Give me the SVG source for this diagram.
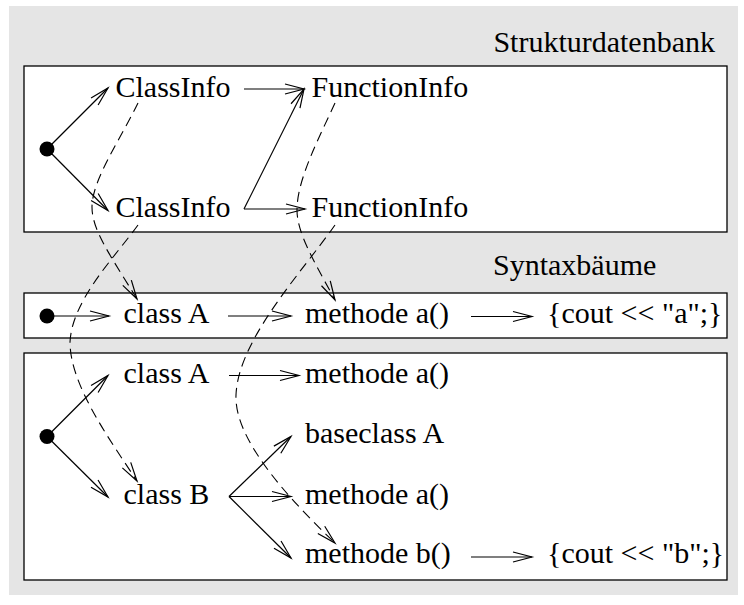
<svg xmlns="http://www.w3.org/2000/svg" width="744" height="605" viewBox="0 0 744 605">
  <style>
    .panel { fill: #ffffff; stroke: #000000; stroke-width: 1.3; }
    .lbl { font-family: "Liberation Serif", "Times New Roman", serif; font-size: 30px; fill: #000000; }
    .title { font-family: "Liberation Serif", "Times New Roman", serif; font-size: 30px; fill: #000000; }
    .dot { fill: #000000; }
    .link { fill: none; stroke: #000000; stroke-width: 1.2; marker-end: url(#chev); }
    .ref { fill: none; stroke: #000000; stroke-width: 1.1; stroke-dasharray: 10 6; marker-end: url(#chev); }
  </style>
  <defs>
    <!-- open chevron arrowhead, tip at origin -->
    <marker id="chev" markerUnits="userSpaceOnUse" markerWidth="24" markerHeight="14" refX="0" refY="0" orient="auto" overflow="visible">
      <path d="M-19,-5 L0,0 L-19,5" fill="none" stroke="#000000" stroke-width="1.2" stroke-linejoin="miter"/>
    </marker>
  </defs>

  <!-- backdrop -->
  <rect x="9" y="6" width="729" height="589" fill="#e5e5e5"/>

  <!-- panels -->
  <rect class="panel" x="24" y="66" width="703" height="166"/>
  <rect class="panel" x="24" y="293" width="703" height="45"/>
  <rect class="panel" x="24" y="353" width="703" height="227"/>

  <text class="title" x="715" y="52" text-anchor="end">Strukturdatenbank</text>
  <text class="title" x="493" y="275">Syntaxbäume</text>

  <!-- structure database -->
  <g id="db-root"><circle class="dot" cx="47" cy="149" r="7.5"/></g>
  <g id="db-classinfo-1"><text class="lbl" x="115.5" y="97">ClassInfo</text></g>
  <g id="db-classinfo-2"><text class="lbl" x="115.5" y="217">ClassInfo</text></g>
  <g id="db-functioninfo-1"><text class="lbl" x="311.5" y="97">FunctionInfo</text></g>
  <g id="db-functioninfo-2"><text class="lbl" x="311.5" y="217">FunctionInfo</text></g>

  <!-- syntax tree 1 -->
  <g id="t1-root"><circle class="dot" cx="47" cy="316" r="7.5"/></g>
  <g id="t1-classA"><text class="lbl" x="123.5" y="323">class A</text></g>
  <g id="t1-methodA"><text class="lbl" x="305" y="323">methode a()</text></g>
  <g id="t1-bodyA"><text class="lbl" x="547" y="323">{cout &lt;&lt; "a";}</text></g>

  <!-- syntax tree 2 -->
  <g id="t2-root"><circle class="dot" cx="47" cy="436.5" r="7.5"/></g>
  <g id="t2-classA"><text class="lbl" x="123.5" y="383">class A</text></g>
  <g id="t2-methodA"><text class="lbl" x="305" y="383">methode a()</text></g>
  <g id="t2-baseclass"><text class="lbl" x="305" y="443">baseclass A</text></g>
  <g id="t2-classB"><text class="lbl" x="123.5" y="503.5">class B</text></g>
  <g id="t2-methodA-inh"><text class="lbl" x="305" y="503.5">methode a()</text></g>
  <g id="t2-methodB"><text class="lbl" x="305" y="563">methode b()</text></g>
  <g id="t2-bodyB"><text class="lbl" x="547" y="563">{cout &lt;&lt; "b";}</text></g>

  <g id="connectors">
    <!-- solid tree edges -->
    <line class="link" x1="47" y1="149" x2="108" y2="88"/>
    <line class="link" x1="47" y1="149" x2="108" y2="210.5"/>
    <line class="link" x1="244" y1="89" x2="304" y2="89"/>
    <line class="link" x1="244" y1="209" x2="305" y2="209"/>
    <line class="link" x1="244" y1="209" x2="304" y2="89"/>

    <line class="link" x1="47" y1="316" x2="109" y2="316"/>
    <line class="link" x1="228" y1="316" x2="291" y2="316"/>
    <line class="link" x1="471" y1="316.5" x2="532" y2="316.5"/>

    <line class="link" x1="47" y1="436.5" x2="108" y2="375.5"/>
    <line class="link" x1="47" y1="436.5" x2="108" y2="497"/>
    <line class="link" x1="229" y1="375.5" x2="299" y2="375.5"/>
    <line class="link" x1="229" y1="496.5" x2="291" y2="436.5"/>
    <line class="link" x1="229" y1="496.5" x2="291" y2="496.5"/>
    <line class="link" x1="229" y1="496.5" x2="291" y2="558"/>
    <line class="link" x1="471" y1="557" x2="532" y2="557"/>

    <!-- dashed references from database entries to tree nodes -->
    <path class="ref" d="M138,103 C120,140 92,180 92,207 C92,230 110,255 137,299"/>
    <path class="ref" d="M138,225 C115,257 72,300 70,342 C70,385 110,440 137,481"/>
    <path class="ref" d="M335,103 C318,140 297,180 297,210 C297,232 312,258 335,300"/>
    <path class="ref" d="M335,225 C302,272 238,340 236,395 C234,440 290,500 335,543"/>
  </g>
</svg>
